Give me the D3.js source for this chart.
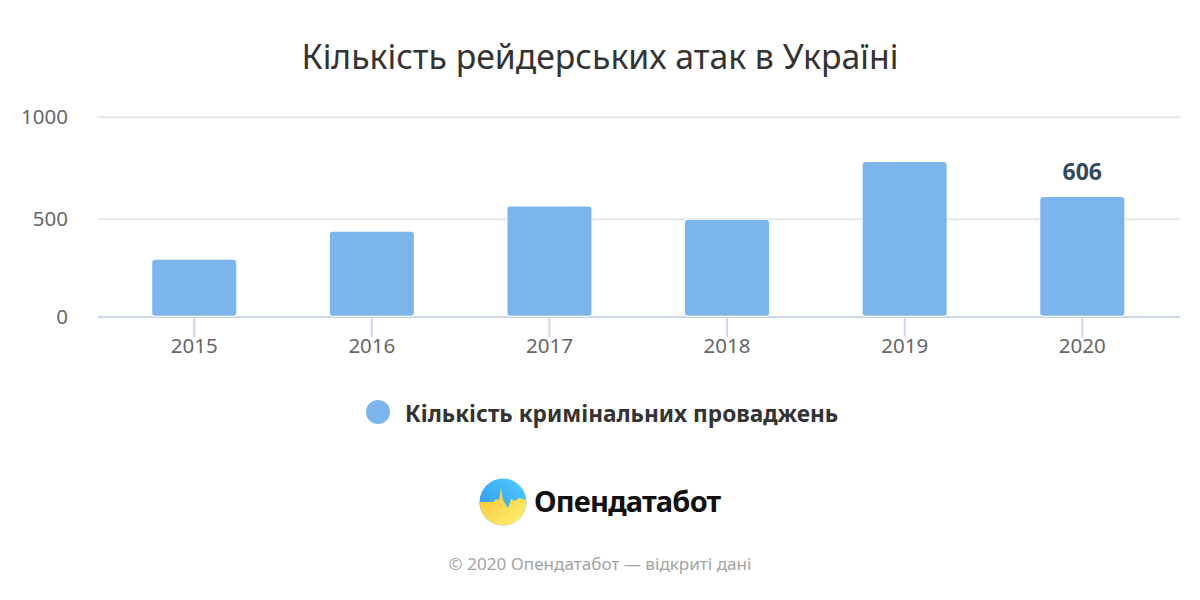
<!DOCTYPE html>
<html>
<head>
<meta charset="utf-8">
<script src="https://cdn.jsdelivr.net/npm/d3@7"></script>
<style>
  html, body { margin: 0; padding: 0; background: #fff; }
  text { font-family: "Noto Sans", "Open Sans", sans-serif; }
</style>
</head>
<body>
<svg id="chart" width="1200" height="600"></svg>
<script>
// data
var years = ["2015", "2016", "2017", "2018", "2019", "2020"];
var cases = [290, 433, 560, 495, 778, 606];
var yTicks = [0, 500, 1000];
var labelledYear = "2020";
var titleText = "Кількість рейдерських атак в Україні";
var seriesName = "Кількість кримінальних проваджень";
var footerText = "© 2020 Опендатабот — відкриті дані";
var logoText = "Опендатабот";

var svg = d3.select("#chart");

var barColor = "#7cb5ec";

//the gridlines in the picture are not evenly spaced so the scale has 3 stops
var y = d3.scaleLinear().domain(yTicks).range([316.7, 218.7, 116.7]);
var x = d3.scaleBand().domain(years).range([105.5, 1171]).paddingInner(0.527).paddingOuter(0.263);

// title
svg.append("text")
    .attr("x", 600).attr("y", 69)
    .attr("text-anchor", "middle")
    .attr("font-size", 33.75)
    .attr("fill", "#333")
    .text(titleText);

// y axis + gridlines
var yAxis = svg.append("g")
    .attr("transform", "translate(98,0)")
    .call(d3.axisLeft(y).tickValues(yTicks).tickSize(-1082).tickPadding(30).tickFormat(d3.format("d")));
yAxis.select(".domain").remove();
yAxis.selectAll("line").attr("stroke", "#e6e6e6").attr("stroke-width", 2);
yAxis.selectAll("text")
    .attr("font-size", 20.5)
    .attr("font-family", "'Noto Sans', sans-serif")
    .attr("fill", "#666")
    .attr("dy", "0.32em");

// x axis
var xAxis = svg.append("g")
    .attr("transform", "translate(0,317)")
    .call(d3.axisBottom(x).tickSize(20).tickPadding(1));
xAxis.select(".domain").remove();
xAxis.selectAll("line").attr("stroke", "#ccd6eb").attr("stroke-width", 2);
xAxis.selectAll("text")
    .attr("font-size", 20.5)
    .attr("font-family", "'Noto Sans', sans-serif")
    .attr("fill", "#666");

svg.append("line")
    .attr("x1", 98).attr("x2", 1180)
    .attr("y1", 317).attr("y2", 317)
    .attr("stroke", "#ccd6eb").attr("stroke-width", 2);

// bars
svg.selectAll("rect.bar")
    .data(years)
    .enter().append("rect")
    .attr("class", "bar")
    .attr("x", d => x(d))
    .attr("y", (d, i) => y(cases[i]))
    .attr("width", x.bandwidth())
    .attr("height", (d, i) => y(0) - y(cases[i]) - 1)
    .attr("rx", 3)
    .attr("fill", barColor)
    .attr("stroke", "#fff")
    .attr("stroke-width", 2)
    .attr("paint-order", "stroke");

// only the last bar has a label
svg.append("text")
    .attr("x", x(labelledYear) + x.bandwidth() / 2)
    .attr("y", y(cases[years.indexOf(labelledYear)]) - 17)
    .attr("text-anchor", "middle")
    .attr("font-size", 23)
    .attr("font-weight", 700)
    .attr("fill", "#34495e")
    .text(cases[years.indexOf(labelledYear)]);

// legend
svg.append("circle").attr("cx", 378).attr("cy", 412).attr("r", 12).attr("fill", barColor);
svg.append("text")
    .attr("x", 405).attr("y", 422)
    .attr("font-size", 22.65)
    .attr("font-weight", 700)
    .attr("fill", "#333")
    .text(seriesName);

// logo
var defs = svg.append("defs");
var topGrad = defs.append("linearGradient").attr("id", "logoTop").attr("x1", 0).attr("x2", 1).attr("y1", 1).attr("y2", 0);
topGrad.append("stop").attr("offset", "0%").attr("stop-color", "#2f8fe8");
topGrad.append("stop").attr("offset", "100%").attr("stop-color", "#4fd0ff");
var botGrad = defs.append("linearGradient").attr("id", "logoBottom").attr("x1", 0).attr("x2", 1).attr("y1", 0).attr("y2", 1);
botGrad.append("stop").attr("offset", "0%").attr("stop-color", "#f7c530");
botGrad.append("stop").attr("offset", "100%").attr("stop-color", "#fff27a");
defs.append("clipPath").attr("id", "logoClip")
    .append("circle").attr("cx", 503).attr("cy", 502).attr("r", 23.5);

var logo = svg.append("g").attr("clip-path", "url(#logoClip)");
logo.append("rect").attr("x", 479).attr("y", 478).attr("width", 48).attr("height", 48).attr("fill", "url(#logoTop)");
logo.append("path")
    .attr("d", "M479,502 L493,502 L496,499 L499,500 L501,488 L503,500 L506,505 L508,508 L511,499 L515,501 L519,498 L527,500 L527,527 L479,527 Z")
    .attr("fill", "url(#logoBottom)");

svg.append("text")
    .attr("x", 534).attr("y", 512)
    .attr("font-size", 29)
    .attr("font-weight", 700)
    .attr("letter-spacing", -0.8)
    .attr("fill", "#111")
    .text(logoText);

// footer
svg.append("text")
    .attr("x", 600).attr("y", 570)
    .attr("text-anchor", "middle")
    .attr("font-size", 17.1)
    .attr("fill", "#a3a3a3")
    .text(footerText);
</script>
</body>
</html>
